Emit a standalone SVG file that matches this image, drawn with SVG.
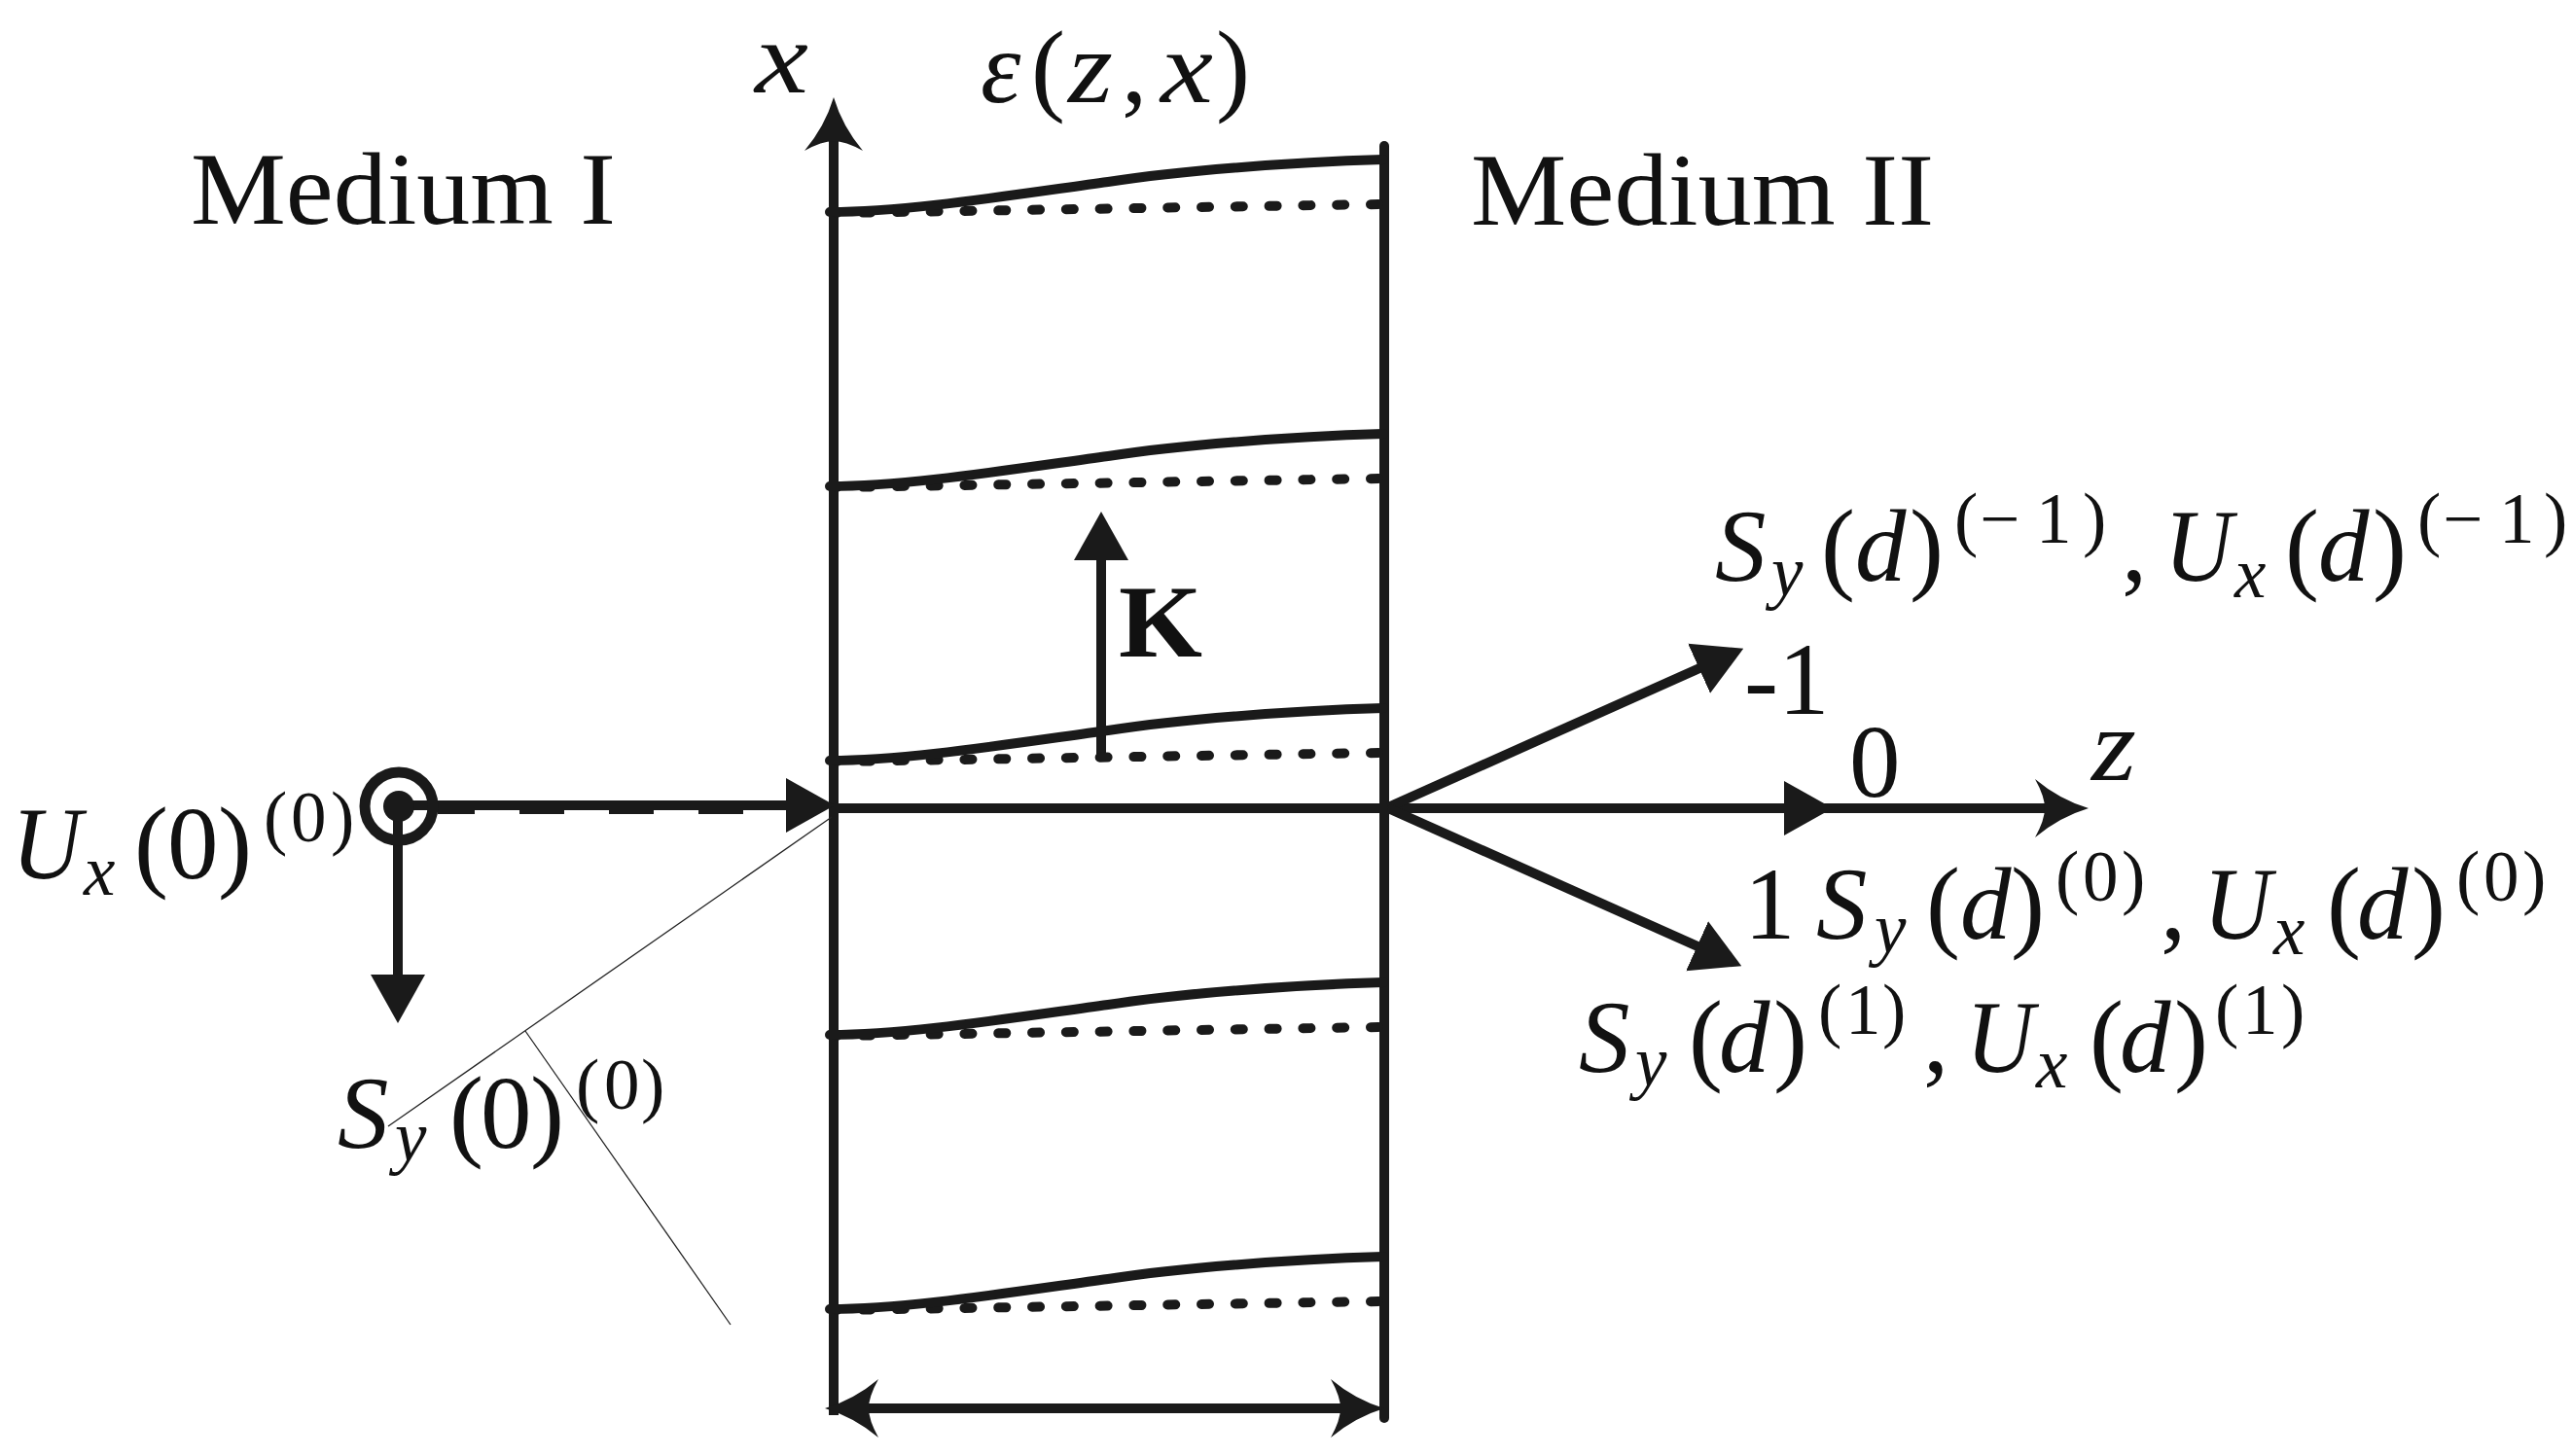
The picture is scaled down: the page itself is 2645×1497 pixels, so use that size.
<svg xmlns="http://www.w3.org/2000/svg" width="2645" height="1497" viewBox="0 0 2645 1497">
<style>
text{font-family:"Liberation Serif",serif;fill:#111}
.m{font-size:105px}
.i{font-style:italic}
.s{font-size:73px}
.l{fill:none;stroke:#1a1a1a;stroke-width:10}
.w{fill:none;stroke:#1a1a1a;stroke-width:10;stroke-linecap:round}
.d{fill:none;stroke:#1a1a1a;stroke-width:10;stroke-dasharray:8 26.8;stroke-linecap:round}
.t{fill:none;stroke:#222;stroke-width:1.3}
.h{fill:#1a1a1a}
</style>
<defs>
<marker id="tri" markerUnits="userSpaceOnUse" markerWidth="50" markerHeight="60" viewBox="0 -30 50 60" refX="30" refY="0" orient="auto"><path class="h" d="M0,-28L50,0L0,28Z"/></marker>
<marker id="bar" markerUnits="userSpaceOnUse" markerWidth="60" markerHeight="64" viewBox="0 -32 56 64" refX="30" refY="0" orient="auto"><path class="h" d="M55,0Q25,-9 0,-30Q10,-12 10,0Q10,12 0,30Q25,9 55,0Z"/></marker>
<marker id="barS" markerUnits="userSpaceOnUse" markerWidth="60" markerHeight="64" viewBox="0 -32 56 64" refX="25" refY="0" orient="auto-start-reverse"><path class="h" d="M55,0Q25,-9 0,-30Q10,-12 10,0Q10,12 0,30Q25,9 55,0Z"/></marker>
<g id="fringe">
<path class="d" d="M1417,210L860,219"/>
<path class="w" d="M853,218C930,218 1030,202 1139,187C1210,176 1320,167 1422,164"/>
</g>
</defs>
<g id="connectors">
<line class="l" x1="857" y1="1455" x2="857" y2="125" marker-end="url(#bar)"/>
<path class="l" stroke-linecap="round" d="M1423,150V1458"/>
<path class="l" d="M857,831H1430"/>
<line class="l" x1="1427" y1="831" x2="2122" y2="831" marker-end="url(#bar)"/>
<line class="l" x1="1427" y1="831" x2="1864" y2="831" marker-end="url(#tri)"/>
<line class="l" x1="1427" y1="830" x2="1774" y2="675" marker-end="url(#tri)"/>
<line class="l" x1="1427" y1="831" x2="1772" y2="985" marker-end="url(#tri)"/>
<line class="l" x1="410" y1="828" x2="838" y2="828" marker-end="url(#tri)"/>
<path class="l" d="M450,832H488M534,832H580M626,832H672M718,832H764"/>
<line class="l" x1="409" y1="830" x2="409" y2="1032" marker-end="url(#tri)"/>
<line class="l" x1="1132" y1="776" x2="1132" y2="546" marker-end="url(#tri)"/>
<line class="l" x1="878" y1="1448" x2="1393" y2="1448" marker-start="url(#barS)" marker-end="url(#barS)"/>
<path class="t" d="M855,840L399,1158"/>
<path class="t" d="M540,1060L751,1362"/>
</g>
<g id="fringes">
<use href="#fringe"/>
<use href="#fringe" y="282"/>
<use href="#fringe" y="564"/>
<use href="#fringe" y="846"/>
<use href="#fringe" y="1128"/>
</g>
<g id="node-source">
<circle cx="410" cy="829" r="35" fill="none" stroke="#1a1a1a" stroke-width="11"/>
<circle cx="410" cy="829" r="16" fill="#1a1a1a"/>
</g>
<g id="labels">
<text class="m" x="196" y="230" textLength="437" lengthAdjust="spacingAndGlyphs">Medium I</text>
<text class="m" x="1512" y="231" textLength="476" lengthAdjust="spacingAndGlyphs">Medium II</text>
<text class="m i" x="776" y="95" textLength="55" lengthAdjust="spacingAndGlyphs">x</text>
<text class="m i" x="1008" y="105">ε</text><text class="m" x="1060" y="105">(</text><text class="m i" x="1098" y="105" textLength="46" lengthAdjust="spacingAndGlyphs">z</text><text class="m" x="1153" y="105">,</text><text class="m i" x="1193" y="105" textLength="54" lengthAdjust="spacingAndGlyphs">x</text><text class="m" x="1250" y="105">)</text>
<text class="m" x="1150" y="675" font-weight="bold" textLength="86" lengthAdjust="spacingAndGlyphs">K</text>
<text class="m" x="1793" y="734">-1</text>
<text class="m" x="1901" y="819">0</text>
<text class="m i" x="2150" y="802" textLength="46" lengthAdjust="spacingAndGlyphs">z</text>
<text class="m" x="1793" y="965">1</text>
<g id="label-ux0"><text class="m i" x="12" y="903" textLength="72" lengthAdjust="spacingAndGlyphs">U</text><text class="s i" x="86" y="920">x</text><text class="m" x="138" y="903">(</text><text class="m" x="172" y="903">0</text><text class="m" x="224" y="903">)</text><text class="s" x="271 299 340" y="865">(0)</text></g>
<g id="label-sy0"><text class="m i" x="347" y="1180">S</text><text class="s i" x="406" y="1193">y</text><text class="m" x="462" y="1180">(</text><text class="m" x="494" y="1180">0</text><text class="m" x="545" y="1180">)</text><text class="s" x="592 621 659" y="1140">(0)</text></g>
<g id="label-m1" transform="translate(-5 0)"><text class="m i" x="1768" y="597">S</text><text class="s i" x="1826" y="612">y</text><text class="m" x="1877" y="597">(</text><text class="m i" x="1912" y="597">d</text><text class="m" x="1968" y="597">)</text><text class="s" x="2014 2040 2098 2146" y="558">(−1)</text><text class="m" x="2186" y="597">,</text><text class="m i" x="2230" y="597" textLength="70" lengthAdjust="spacingAndGlyphs">U</text><text class="s i" x="2302" y="614">x</text><text class="m" x="2354" y="597">(</text><text class="m i" x="2388" y="597">d</text><text class="m" x="2444" y="597">)</text><text class="s" x="2490 2516 2574 2620" y="558">(−1)</text></g>
<g id="label-0" transform="translate(-5 0)"><text class="m i" x="1872" y="965">S</text><text class="s i" x="1932" y="979">y</text><text class="m" x="1985" y="965">(</text><text class="m i" x="2020" y="965">d</text><text class="m" x="2072" y="965">)</text><text class="s" x="2118 2146 2186" y="926">(0)</text><text class="m" x="2226" y="965">,</text><text class="m i" x="2270" y="965" textLength="70" lengthAdjust="spacingAndGlyphs">U</text><text class="s i" x="2342" y="981">x</text><text class="m" x="2397" y="965">(</text><text class="m i" x="2428" y="965">d</text><text class="m" x="2484" y="965">)</text><text class="s" x="2530 2558 2598" y="926">(0)</text></g>
<g id="label-p1" transform="translate(-5 0)"><text class="m i" x="1628" y="1102">S</text><text class="s i" x="1686" y="1116">y</text><text class="m" x="1741" y="1102">(</text><text class="m i" x="1772" y="1102">d</text><text class="m" x="1828" y="1102">)</text><text class="s" x="1874 1902 1940" y="1063">(1)</text><text class="m" x="1982" y="1102">,</text><text class="m i" x="2026" y="1102" textLength="70" lengthAdjust="spacingAndGlyphs">U</text><text class="s i" x="2098" y="1118">x</text><text class="m" x="2153" y="1102">(</text><text class="m i" x="2184" y="1102">d</text><text class="m" x="2240" y="1102">)</text><text class="s" x="2282 2310 2350" y="1063">(1)</text></g>
</g>
</svg>
